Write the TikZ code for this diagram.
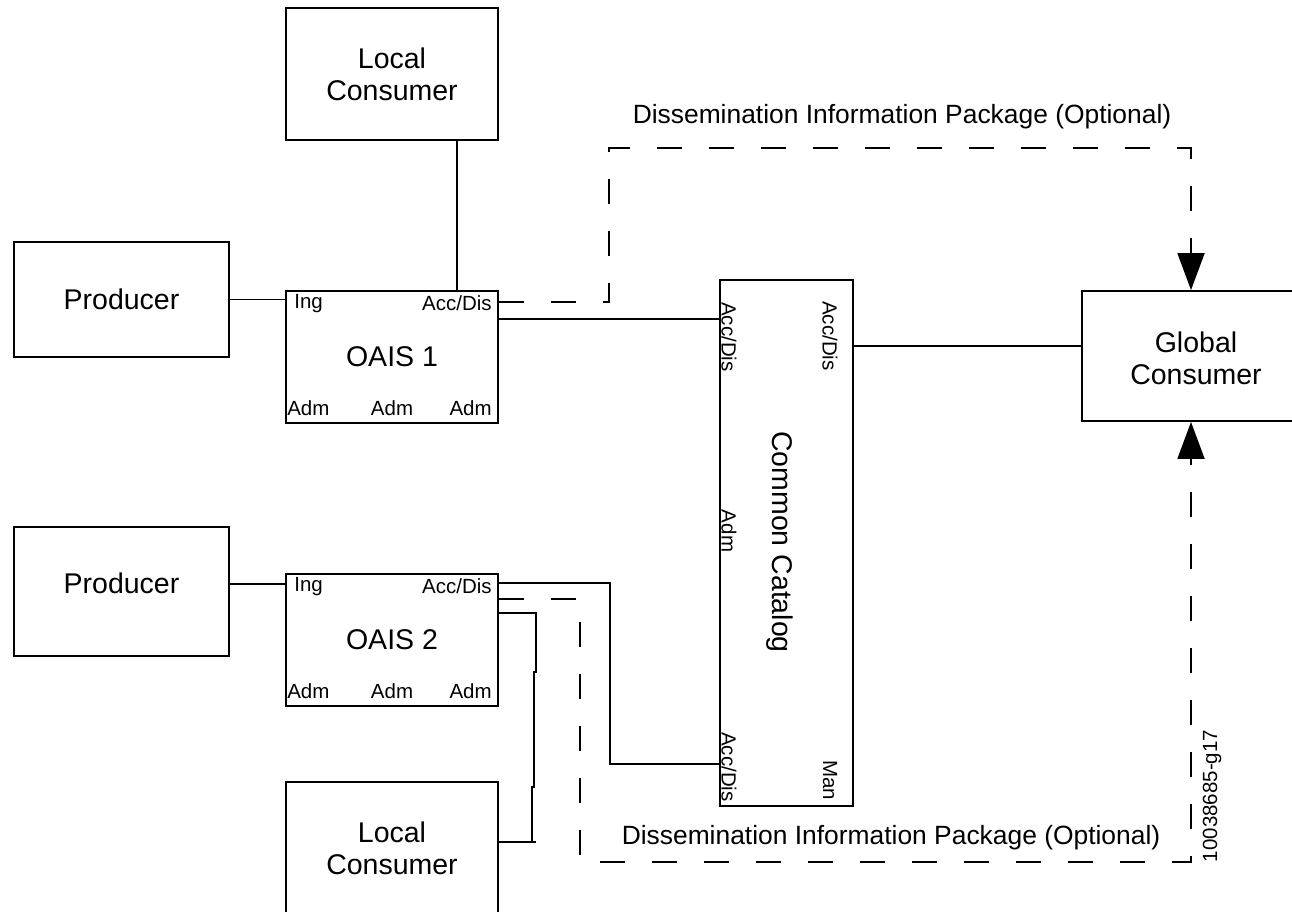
\documentclass[tikz,border=0pt]{standalone}
\usepackage{fontspec}
\setmainfont{Liberation Sans}
\usetikzlibrary{arrows.meta,calc}
\begin{document}
\begin{tikzpicture}[x=1pt,y=-1pt,
  blk/.style={draw, line width=1.8pt, inner sep=0pt, align=center,
    font=\fontsize{28.5}{32}\selectfont},
  lab/.style={inner sep=0pt, font=\fontsize{20.5}{23}\selectfont},
  dtext/.style={inner sep=0pt, font=\fontsize{26.4}{30}\selectfont},
  wire/.style={line width=1.8pt},
  dip/.style={line width=1.8pt, dash pattern=on 25pt off 27pt},
  tipa/.style={-{Triangle[width=27pt,length=37pt]}}]
\useasboundingbox (0,0) rectangle (1292,911);
% boxes
\node[blk, minimum width=212pt, minimum height=132pt] (lc1) at (392,74) {Local\\Consumer};
\node[blk, minimum width=215pt, minimum height=115pt] (p1) at (121.5,299.5) {Producer};
\node[blk, minimum width=212pt, minimum height=132pt] (o1) at (392,357) {OAIS 1};
\node[blk, minimum width=215pt, minimum height=129pt, text depth=17pt] (p2) at (121.5,591.5) {Producer};
\node[blk, minimum width=212pt, minimum height=132pt] (o2) at (392,640) {OAIS 2};
\node[blk, minimum width=212pt, minimum height=132pt] (lc2) at (392,848) {Local\\Consumer};
\node[blk, minimum width=133pt, minimum height=526pt] (cc) at (786.5,543) {};
\node[blk, minimum width=218pt, minimum height=130pt] (gc) at (1191,356) {};
\node[inner sep=0pt, align=center, font=\fontsize{28.5}{32}\selectfont] (gct) at (1196,358) {Global\\Consumer};
\node[inner sep=0pt, rotate=-90, font=\fontsize{28.5}{32}\selectfont] (cct) at (780,542) {Common Catalog};
% OAIS labels
\node[lab, anchor=west] (o1ing) at ($(o1.north west)+(9,13)$) {Ing};
\node[lab, anchor=east] (o1acc) at ($(o1.north east)+(-7,13)$) {Acc/Dis};
\node[lab, anchor=west] (o1a1) at ($(o1.south west)+(2,-16)$) {Adm};
\node[lab] (o1a2) at ($(o1.south)+(0,-16)$) {Adm};
\node[lab, anchor=east] (o1a3) at ($(o1.south east)+(-7,-16)$) {Adm};
\node[lab, anchor=west] (o2ing) at ($(o2.north west)+(9,13)$) {Ing};
\node[lab, anchor=east] (o2acc) at ($(o2.north east)+(-7,13)$) {Acc/Dis};
\node[lab, anchor=west] (o2a1) at ($(o2.south west)+(2,-16)$) {Adm};
\node[lab] (o2a2) at ($(o2.south)+(0,-16)$) {Adm};
\node[lab, anchor=east] (o2a3) at ($(o2.south east)+(-7,-16)$) {Adm};
% Common Catalog labels
\node[lab, rotate=-90] (ccacc1) at (729,337) {Acc/Dis};
\node[lab, rotate=-90] (ccacc2) at (830,336) {Acc/Dis};
\node[lab, rotate=-90] (ccadm) at (729,531) {Adm};
\node[lab, rotate=-90] (ccacc3) at (729,767) {Acc/Dis};
\node[lab, rotate=-90] (ccman) at (830,780) {Man};
% other texts
\node[dtext] (dip1) at (902,117) {Dissemination Information Package (Optional)};
\node[dtext] (dip2) at (891,838) {Dissemination Information Package (Optional)};
\node[lab, rotate=90] (fig) at (1212,796) {10038685-g17};
% solid connectors
\draw[wire] (p1.east) -- (p1.east -| o1.west);
\draw[wire] ($(o2.north west)+(0,11)$) coordinate (b1) -- (b1 -| p2.east);
\draw[wire] (lc1.south -| o1acc) -- (o1acc |- o1.north);
\draw[wire] ($(o1.north east)+(0,29)$) coordinate (a1) -- (a1 -| cc.west);
\draw[wire] ($(gc.west)+(0,-10)$) coordinate (a2) -- (a2 -| cc.east);
\draw[wire] ($(o2.north east)+(0,10)$) -- ++(111,0) |- ($(cc.south west)+(0,-43)$);
\draw[wire] ($(o2.north east)+(0,40)$) -- ++(37,0) -- ++(0,59) -- ++(-2,0) -- ++(0,115) -- ++(-2,0) |- ($(lc2.north east)+(0,61)$);
\draw[wire] ($(lc2.north east)+(0,61)$) -- ++(37,0);
% dashed DIP connectors
\coordinate (dt) at (609,148);
\coordinate (db) at (580,862);
\draw[dip, tipa] ($(o1.north east)+(0,12)$) -| (dt) -| (gc.north);
\draw[dip, tipa] ($(o2.north east)+(0,26)$) -| (db) -| (gc.south);
\end{tikzpicture}
\end{document}
